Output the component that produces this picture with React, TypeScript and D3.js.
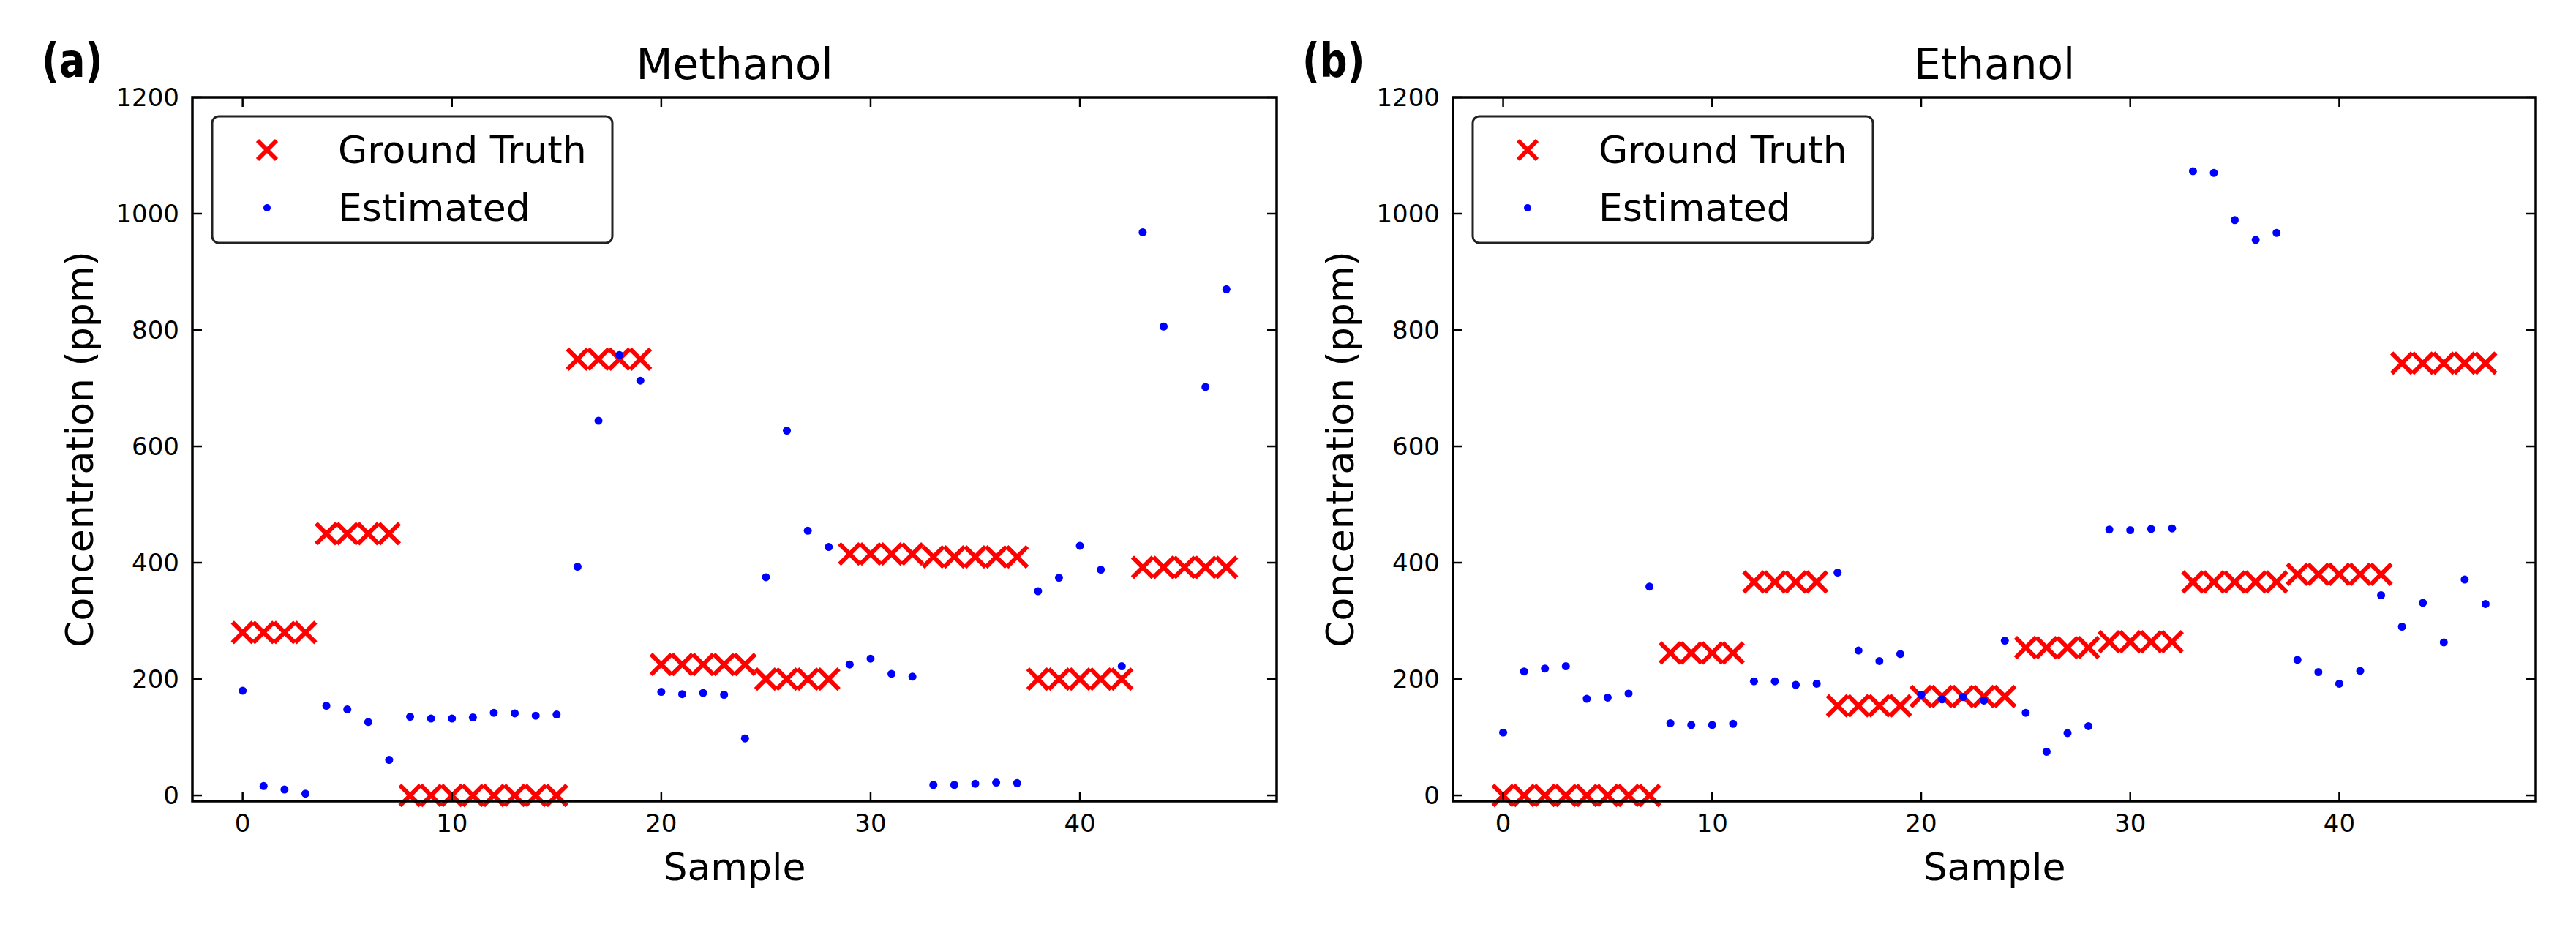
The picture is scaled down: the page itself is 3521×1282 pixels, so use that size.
import { scaleLinear } from 'd3'

// sample index 0..47
const samples = Array.from({ length: 48 }, (_, i) => i)

const methanolTruth = [
  280, 280, 280, 280, 450, 450, 450, 450, 0, 0, 0, 0, 0, 0, 0, 0, 750, 750, 750, 750, 225, 225, 225, 225, 225, 200,
  200, 200, 200, 415, 415, 415, 415, 410, 410, 410, 410, 410, 200, 200, 200, 200, 200, 392, 392, 392, 392, 392,
]
// index 45 falls above the 1200 limit in the original, so it is not drawn
const methanolEstimated = [
  180, 16, 10, 3, 154, 148, 126, 61, 135, 132, 132, 134, 142, 141, 137, 139, 393, 644, 757, 713, 178, 174, 176, 173, 98,
  375, 627, 455, 427, 225, 235, 209, 204, 18, 18, 20, 22, 21, 351, 374, 429, 388, 222, 968, 806, null, 702, 870,
]

const ethanolTruth = [
  0, 0, 0, 0, 0, 0, 0, 0, 245, 245, 245, 245, 367, 367, 367, 367, 154, 154, 154, 154, 170, 170, 170, 170, 170, 254, 254,
  254, 254, 264, 264, 264, 264, 367, 367, 367, 367, 367, 380, 380, 380, 380, 380, 743, 743, 743, 743, 743,
]
const ethanolEstimated = [
  108, 213, 218, 222, 166, 168, 175, 359, 124, 121, 121, 123, 196, 196, 190, 192, 383, 249, 231, 243, 173, 165, 169, 163,
  266, 142, 75, 107, 119, 457, 456, 458, 459, 1073, 1070, 989, 955, 967, 233, 212, 192, 214, 344, 290, 331, 263, 371,
  329,
]

const xTicks = [0, 10, 20, 30, 40]
const yTicks = [0, 200, 400, 600, 800, 1000, 1200]
const legendLabels = ['Ground Truth', 'Estimated']

const W = 3521
const H = 1282
const TOP = 133
const BOTTOM = 1095
const FONT = '"DejaVu Sans", sans-serif'
const TICK = 13

interface PanelProps {
  left: number
  right: number
  tag: string
  title: string
  truth: number[]
  estimated: (number | null)[]
}

function Panel({ left, right, tag, title, truth, estimated }: PanelProps) {
  const x = scaleLinear().domain([-2.4, 49.4]).range([left, right])
  const y = scaleLinear().domain([-10, 1200]).range([BOTTOM, TOP])
  const cx = (left + right) / 2

  // matplotlib-like 'x' marker
  const cross = (px: number, py: number, key: string | number, s = 14) => (
    <path
      key={key}
      d={`M${px - s},${py - s}L${px + s},${py + s}M${px - s},${py + s}L${px + s},${py - s}`}
      stroke="#ff0000"
      strokeWidth={6}
      fill="none"
    />
  )

  const tagX = left - 206

  return (
    <g>
      {/* panel tag and title */}
      <text
        x={tagX}
        y={105}
        fontFamily={FONT}
        fontWeight="bold"
        fontSize={64}
        transform={`translate(${tagX},0) scale(0.82,1) translate(${-tagX},0)`}
      >
        {tag}
      </text>
      <text x={cx} y={108} fontFamily={FONT} fontSize={58} textAnchor="middle">
        {title}
      </text>

      {/* marks */}
      {samples.map((i) => cross(x(i), y(truth[i]), `t${i}`))}
      {samples
        .filter((i) => estimated[i] !== null)
        .map((i) => (
          <circle key={`e${i}`} cx={x(i)} cy={y(estimated[i] as number)} r={5.5} fill="#0000ff" />
        ))}

      {/* ticks, pointing inward on all four sides */}
      {xTicks.map((t) => (
        <g key={`xt${t}`}>
          <line x1={x(t)} x2={x(t)} y1={BOTTOM} y2={BOTTOM - TICK} stroke="#000" strokeWidth={2.5} />
          <line x1={x(t)} x2={x(t)} y1={TOP} y2={TOP + TICK} stroke="#000" strokeWidth={2.5} />
          <text x={x(t)} y={1137} fontFamily={FONT} fontSize={34} textAnchor="middle">
            {t}
          </text>
        </g>
      ))}
      {yTicks.map((t) => (
        <g key={`yt${t}`}>
          <line x1={left} x2={left + TICK} y1={y(t)} y2={y(t)} stroke="#000" strokeWidth={2.5} />
          <line x1={right} x2={right - TICK} y1={y(t)} y2={y(t)} stroke="#000" strokeWidth={2.5} />
          <text x={left - 18} y={y(t)} dy="0.36em" fontFamily={FONT} fontSize={34} textAnchor="end">
            {t}
          </text>
        </g>
      ))}
      <rect x={left} y={TOP} width={right - left} height={BOTTOM - TOP} fill="none" stroke="#000" strokeWidth={3.5} />

      {/* axis labels */}
      <text x={cx} y={1203} fontFamily={FONT} fontSize={52} textAnchor="middle">
        Sample
      </text>
      <text
        transform={`translate(${left - 136},${(TOP + BOTTOM) / 2}) rotate(-90)`}
        fontFamily={FONT}
        fontSize={52}
        textAnchor="middle"
      >
        Concentration (ppm)
      </text>

      {/* legend */}
      <rect x={left + 27} y={159} width={547} height={173} rx={9} fill="#fff" stroke="#222" strokeWidth={3} />
      {cross(left + 102, 205, 'lg0', 13)}
      <circle cx={left + 102} cy={284} r={5} fill="#0000ff" />
      {legendLabels.map((l, i) => (
        <text key={l} x={left + 199} y={223 + i * 79} fontFamily={FONT} fontSize={52}>
          {l}
        </text>
      ))}
    </g>
  )
}

export default function App() {
  return (
    <svg width={W} height={H} style={{ position: 'absolute', left: 0, top: 0, background: '#fff' }}>
      <rect width={W} height={H} fill="#fff" />
      <Panel left={263} right={1745} tag="(a)" title="Methanol" truth={methanolTruth} estimated={methanolEstimated} />
      <Panel left={1986} right={3466} tag="(b)" title="Ethanol" truth={ethanolTruth} estimated={ethanolEstimated} />
    </svg>
  )
}
